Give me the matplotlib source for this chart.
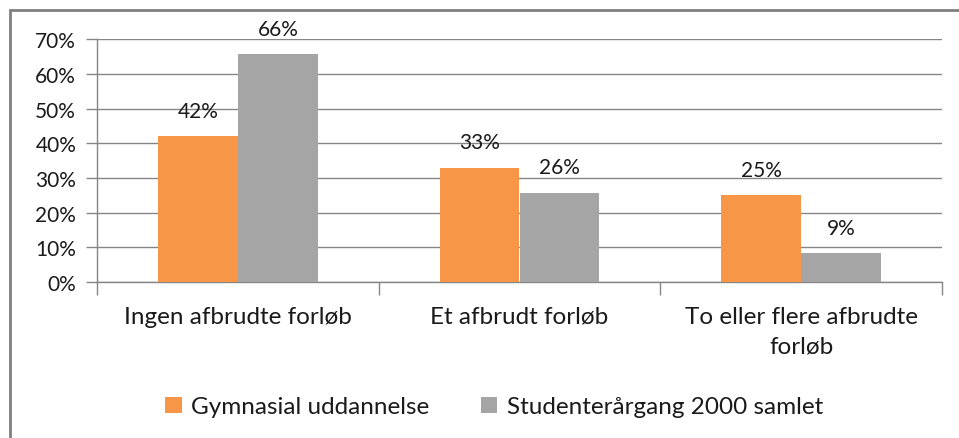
import matplotlib.pyplot as plt
from matplotlib.patches import Rectangle
import numpy as np

plt.rcParams['font.family'] = ['Lato', 'DejaVu Sans']

categories = ["Ingen afbrudte forløb", "Et afbrudt forløb", "To eller flere afbrudte\nforløb"]
gymnasial = [0.42, 0.33, 0.25]
studenter = [0.657, 0.258, 0.083]
gym_labels = ["42%", "33%", "25%"]
stud_labels = ["66%", "26%", "9%"]
series_names = ["Gymnasial uddannelse", "Studenterårgang 2000 samlet"]

orange = "#F79646"
grey = "#A5A5A5"
txt = "#1a1a1a"
num_size = 15
word_size = 17.5

fig = plt.figure(figsize=(9.59, 4.39), dpi=100)
ax = fig.add_axes([97 / 959, 1 - 283 / 439, 845 / 959, (283 - 40.3) / 439])

x = np.arange(len(categories))
w = 0.284
b1 = ax.bar(x - w / 2, gymnasial, w, color=orange, label=series_names[0], zorder=3)
b2 = ax.bar(x + w / 2, studenter, w, color=grey, label=series_names[1], zorder=3)

for bars, labs in ((b1, gym_labels), (b2, stud_labels)):
    for bar, lab in zip(bars, labs):
        ax.annotate(lab, (bar.get_x() + bar.get_width() / 2, bar.get_height()),
                    xytext=(0, 18.5), textcoords="offset points", ha="center", va="center",
                    fontsize=num_size, color=txt, zorder=4)

ax.set_xlim(-0.5, 2.5)
ax.set_ylim(0, 0.70)
ax.set_yticks(np.arange(0, 0.71, 0.1))
ax.set_yticklabels([f"{int(round(v * 100))}%" for v in np.arange(0, 0.71, 0.1)])
ax.yaxis.grid(True, color="#868686", linewidth=1, zorder=0)
ax.set_axisbelow(True)

# category labels centred, ticks on the boundaries
ax.set_xticks(x)
ax.set_xticklabels(categories, linespacing=1.55)
ax.tick_params(axis="x", length=0, pad=17, labelsize=word_size, labelcolor=txt)
ax.set_xticks([-0.5, 0.5, 1.5, 2.5], minor=True)
ax.tick_params(axis="x", which="minor", length=9, color="#868686", width=1)
ax.tick_params(axis="y", length=8, color="#868686", width=1, labelsize=num_size, labelcolor=txt, pad=7)

for s in ("top", "right"):
    ax.spines[s].set_visible(False)
for s in ("left", "bottom"):
    ax.spines[s].set_color("#868686")
    ax.spines[s].set_linewidth(1)

fig.legend(handles=[b1, b2], loc="center", bbox_to_anchor=(494 / 959, 1 - 408 / 439),
           ncol=2, frameon=False, fontsize=word_size, handlelength=0.68, handleheight=0.68,
           handletextpad=0.4, columnspacing=2.1, labelcolor=txt)

# chart frame, cut off at right and bottom like the screenshot
fig.patches.append(Rectangle((9.5 / 959, -0.1), 1.2, 1 - 10.5 / 439 + 0.1,
                             transform=fig.transFigure, fill=False,
                             edgecolor="#7f7f7f", linewidth=2))

fig.savefig("out.png", dpi=100)
